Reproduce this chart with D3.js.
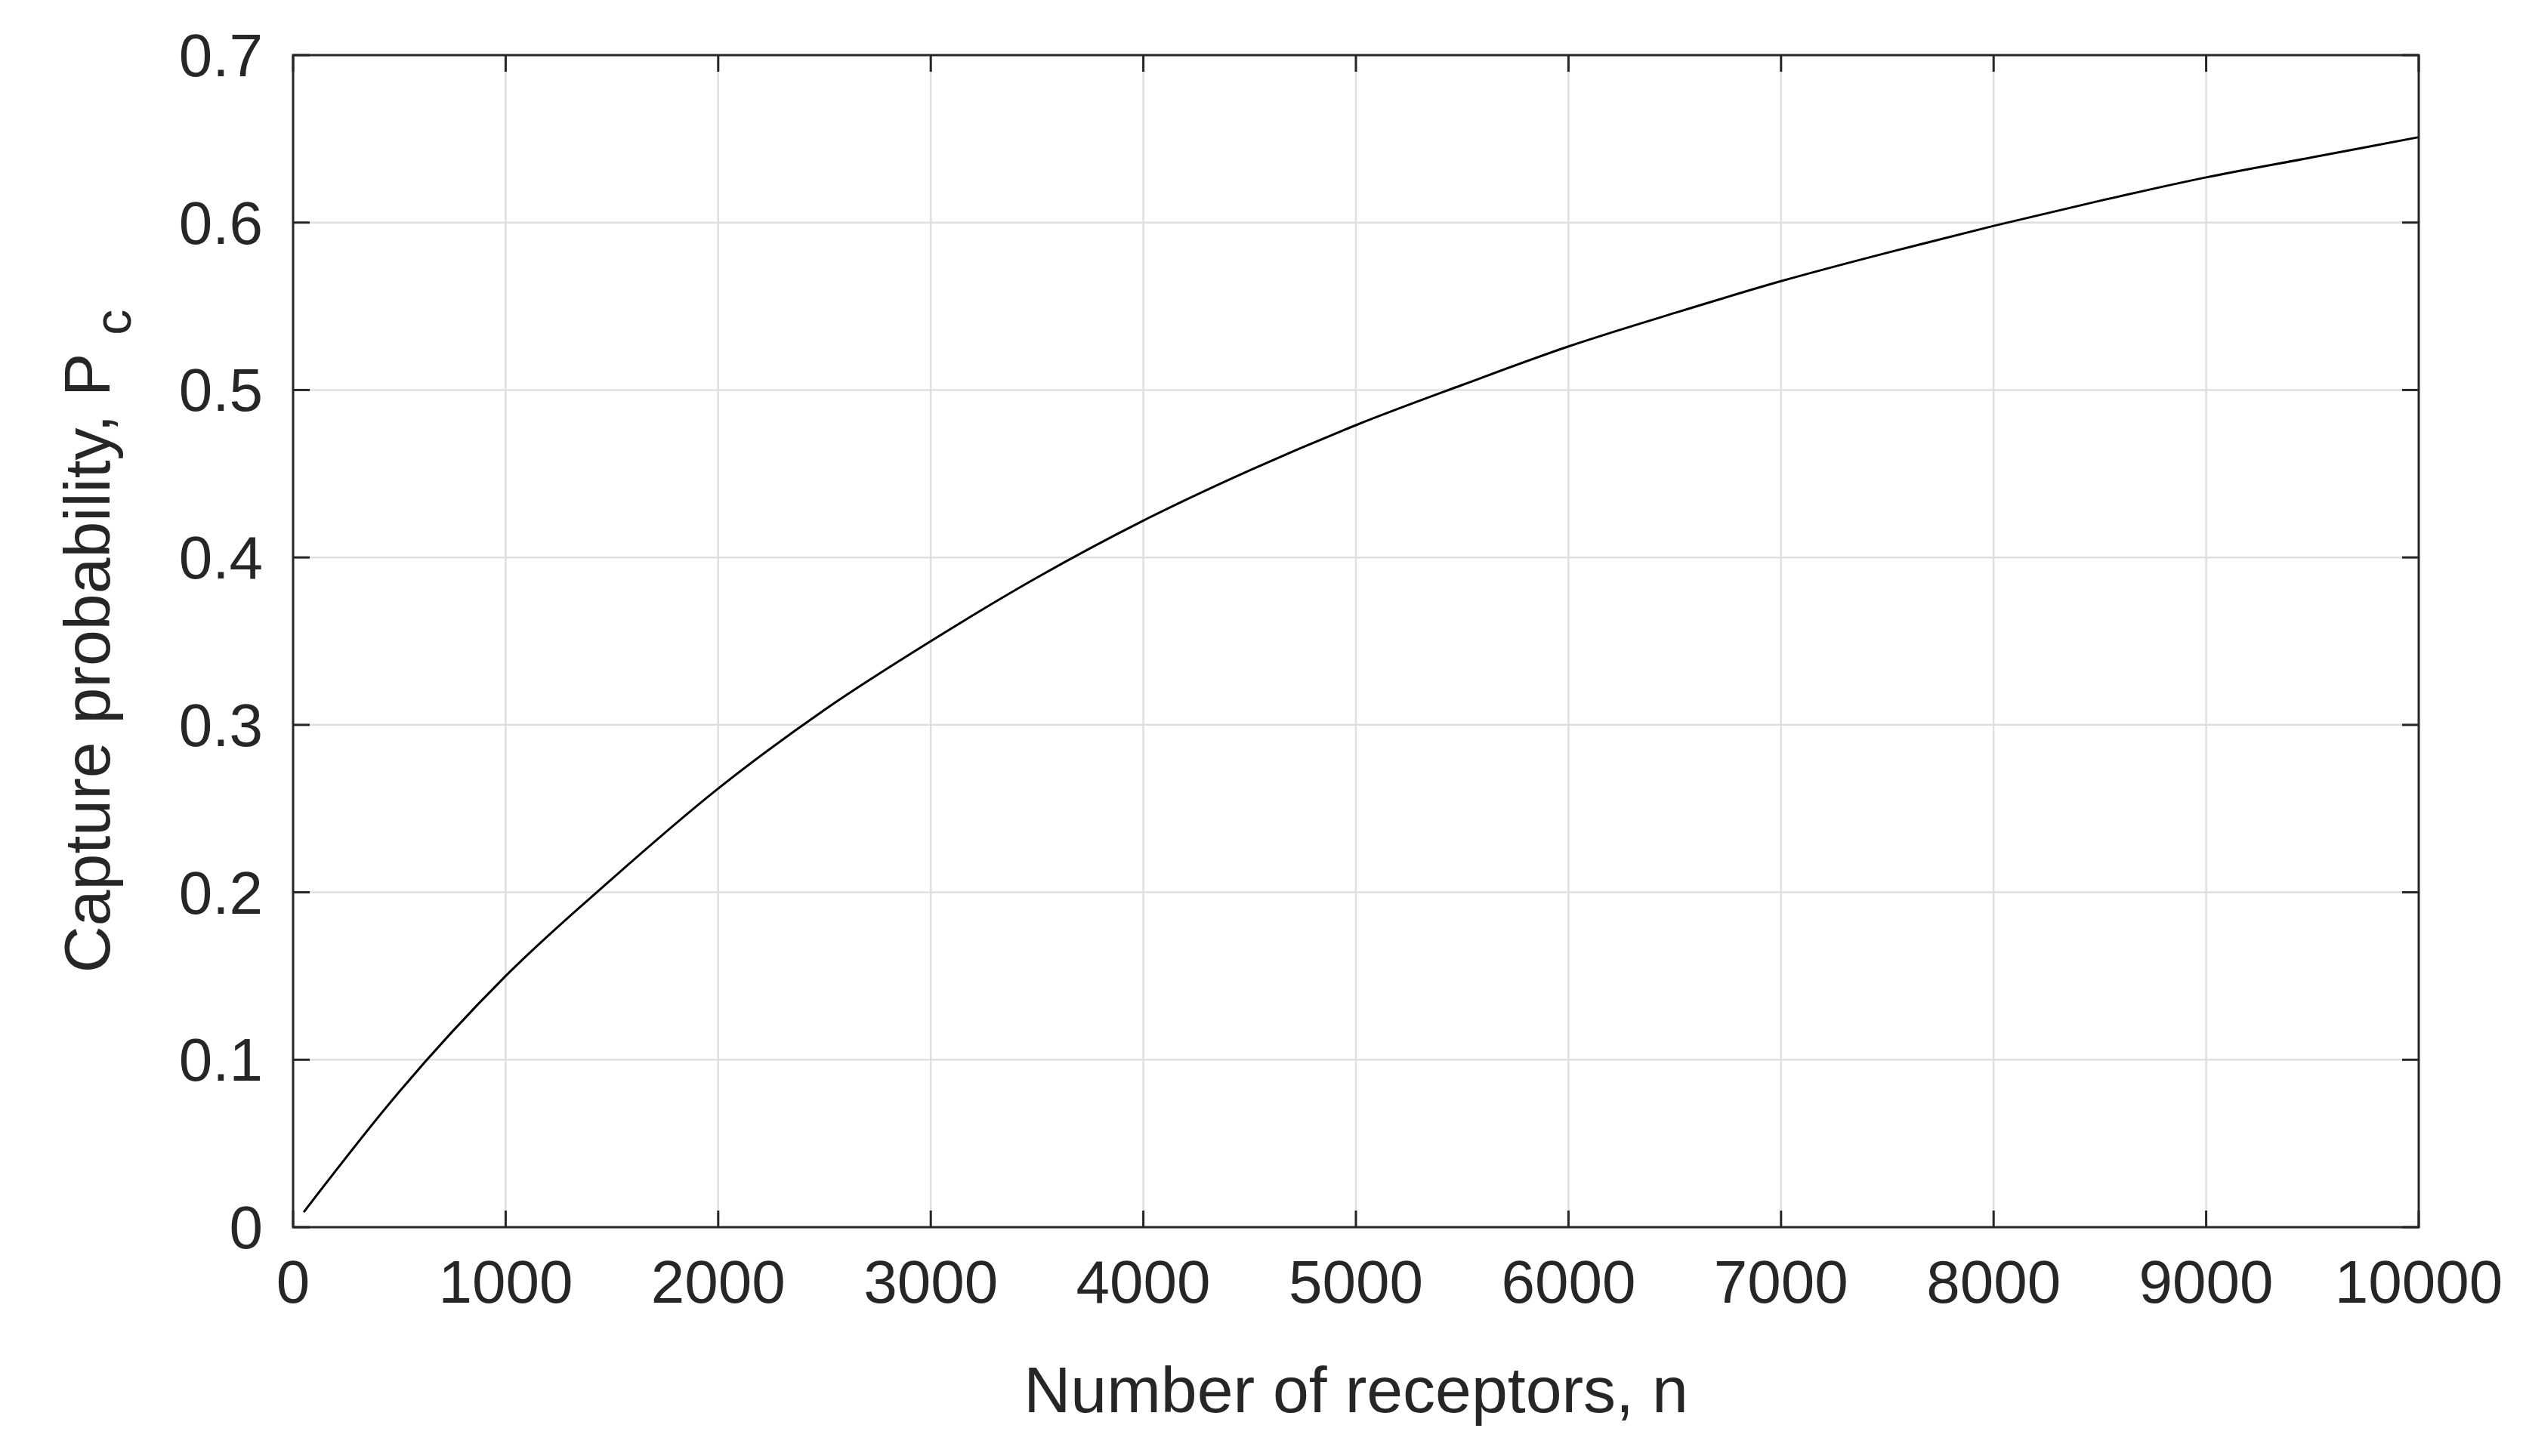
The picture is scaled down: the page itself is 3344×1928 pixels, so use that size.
<!DOCTYPE html>
<html><head><meta charset="utf-8">
<script src="https://cdn.jsdelivr.net/npm/d3@7"></script>
<style>body{margin:0;background:#fff}svg{display:block}</style>
</head><body>
<script>
const nValues = [50,500,1000,1500,2000,2500,3000,3500,4000,4500,5000,5500,6000,6500,7000,7500,8000,8500,9000,9500,10000];
const pcValues = [0.009,0.081,0.150,0.208,0.262,0.309,0.350,0.388,0.422,0.452,0.479,0.503,0.526,0.546,0.565,0.582,0.598,0.613,0.627,0.639,0.651];
const xTicks = [0,1000,2000,3000,4000,5000,6000,7000,8000,9000,10000];
const yTicks = [0,0.1,0.2,0.3,0.4,0.5,0.6,0.7];

const W=3344,H=1928, L=388,R=3202,T=73,B=1625;
const svg=d3.select("body").append("svg").attr("width",W).attr("height",H);
const x=d3.scaleLinear().domain([0,10000]).range([L,R]);
const y=d3.scaleLinear().domain([0,0.7]).range([B,T]);
const font="'Liberation Sans', Arial, sans-serif", fc="#262626";

const g=svg.append("g");
g.selectAll(".gx").data(xTicks.slice(1,-1)).join("line").attr("x1",d=>x(d)).attr("x2",d=>x(d)).attr("y1",T).attr("y2",B).attr("stroke","#dfdfdf").attr("stroke-width",2.5);
g.selectAll(".gy").data(yTicks.slice(1,-1)).join("line").attr("y1",d=>y(d)).attr("y2",d=>y(d)).attr("x1",L).attr("x2",R).attr("stroke","#dfdfdf").attr("stroke-width",2.5);

const tl=22, sw=3;
xTicks.forEach(d=>{
  g.append("line").attr("x1",x(d)).attr("x2",x(d)).attr("y1",B).attr("y2",B-tl).attr("stroke",fc).attr("stroke-width",sw);
  g.append("line").attr("x1",x(d)).attr("x2",x(d)).attr("y1",T).attr("y2",T+tl).attr("stroke",fc).attr("stroke-width",sw);
  g.append("text").attr("x",x(d)).attr("y",B+100).attr("text-anchor","middle").attr("font-family",font).attr("font-size",80).attr("fill",fc).text(d3.format("d")(d));
});
yTicks.forEach(d=>{
  g.append("line").attr("y1",y(d)).attr("y2",y(d)).attr("x1",L).attr("x2",L+tl).attr("stroke",fc).attr("stroke-width",sw);
  g.append("line").attr("y1",y(d)).attr("y2",y(d)).attr("x1",R).attr("x2",R-tl).attr("stroke",fc).attr("stroke-width",sw);
  g.append("text").attr("x",L-40).attr("y",y(d)+28).attr("text-anchor","end").attr("font-family",font).attr("font-size",80).attr("fill",fc).text(d===0?"0":d3.format(".1f")(d));
});

const line=d3.line().x((d,i)=>x(nValues[i])).y(d=>y(d)).curve(d3.curveMonotoneX);
g.append("path").attr("d",line(pcValues)).attr("fill","none").attr("stroke","#000").attr("stroke-width",3);

g.append("rect").attr("x",L).attr("y",T).attr("width",R-L).attr("height",B-T).attr("fill","none").attr("stroke",fc).attr("stroke-width",sw);

g.append("text").attr("x",(L+R)/2).attr("y",1870).attr("text-anchor","middle").attr("font-family",font).attr("font-size",86).attr("fill",fc).text("Number of receptors, n");
const yl=g.append("text").attr("transform",`translate(145,${(T+B)/2}) rotate(-90)`).attr("text-anchor","middle").attr("font-family",font).attr("font-size",86).attr("fill",fc);
yl.append("tspan").text("Capture probability, P");
yl.append("tspan").attr("dy",28).attr("dx",24).attr("font-size",68).text("c");
</script>
</body></html>
